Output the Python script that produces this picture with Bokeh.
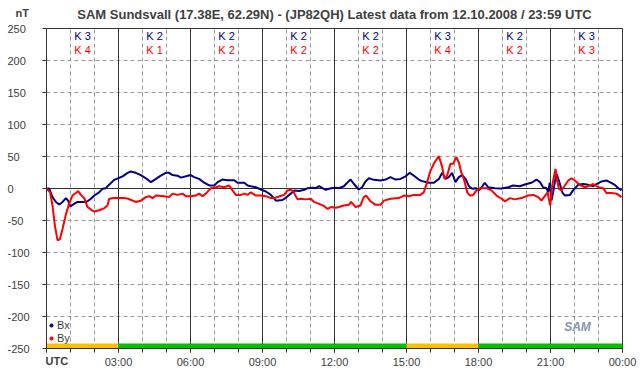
import numpy as np
from bokeh.plotting import figure
from bokeh.models import (FixedTicker, Label, LabelSet, ColumnDataSource, Range1d,
                          Legend, LegendItem)
from bokeh.embed import file_html
from bokeh.resources import INLINE
from bokeh.core.properties import value

# ---------------- data ----------------
title_text = "SAM Sundsvall (17.38E, 62.29N) - (JP82QH) Latest data from 12.10.2008 / 23:59 UTC"
unit_text = "nT"
y_ticks = [-250, -200, -150, -100, -50, 0, 50, 100, 150, 200, 250]
y_tick_labels = ["-250", "-200", "-150", "-100", "-50", "0", "50", "100", "150", "200", "250"]
x_ticks = [0, 3, 6, 9, 12, 15, 18, 21, 24]
x_tick_labels = ["UTC", "03:00", "06:00", "09:00", "12:00", "15:00", "18:00", "21:00", "00:00"]
hour_ticks = list(range(25))
seg_start = [0, 3, 6, 9, 12, 15, 18, 21]
seg_end = [3, 6, 9, 12, 15, 18, 21, 24]
k_bx = [3, 2, 2, 2, 2, 3, 2, 3]
k_by = [4, 1, 2, 2, 2, 4, 2, 3]

bx_t = [0, 0.11, 0.25, 0.39, 0.53, 0.67, 0.81, 0.90, 0.99, 1.15, 1.29, 1.57, 1.71, 1.85, 1.99,
        2.19, 2.33, 2.47, 2.61, 2.82, 2.99, 3.17, 3.38, 3.51, 3.72, 3.93, 4.14, 4.35, 4.56, 4.76,
        4.97, 5.11, 5.25, 5.46, 5.60, 5.81, 6.01, 6.15, 6.36, 6.57, 6.78, 6.99, 7.13, 7.33, 7.54,
        7.82, 7.96, 8.24, 8.38, 8.51, 8.72, 8.93, 9.14, 9.35, 9.56, 9.83, 9.97, 10.18, 10.32,
        10.53, 10.74, 10.88, 11.08, 11.22, 11.36, 11.50, 11.64, 11.85, 12.06, 12.18, 12.39,
        12.53, 12.67, 12.81, 13.01, 13.15, 13.29, 13.43, 13.64, 13.92, 14.13, 14.33, 14.54,
        14.75, 14.96, 15.14, 15.31, 15.51, 15.65, 15.93, 16.14, 16.35, 16.49, 16.63, 16.76,
        16.90, 17.04, 17.18, 17.32, 17.46, 17.60, 17.74, 17.88, 18.01, 18.13, 18.26, 18.40,
        18.68, 18.96, 19.24, 19.44, 19.72, 20.00, 20.21, 20.42, 20.56, 20.69, 20.83, 20.90,
        20.97, 21.04, 21.11, 21.18, 21.25, 21.35, 21.49, 21.60, 21.81, 21.94, 22.15, 22.36,
        22.57, 22.78, 22.92, 23.13, 23.33, 23.47, 23.68, 23.82, 23.96]
bx_v = [0, 0, -13.5, -21, -25, -21, -15, -19, -28, -24, -21, -21, -20, -16, -11,
        -6, -0.5, 0.5, 6, 13.5, 16, 19, 24.5, 26.5, 24.5, 21, 16, 10, 15, 20,
        24.5, 24.5, 21, 20, 17, 19, 21, 17.7, 15, 9, 4.7, 4.7, 10, 14, 13,
        13, 9, 9, 4.7, 3.6, 2, -1.6, -4.7, -10, -19, -18, -14.6, -8, -3,
        -4, -2, 0.5, 1, 0.5, 3.6, 0.5, -2, 0.5, 1, 0.5, 3.6,
        9, 14, 7, -1.6, 2, 11, 16, 13.5, 12.5, 14, 17.7, 14,
        15, 19, 24.5, 20, 14, 11.5, 9, 9, 15, 24.5, 15, 17.7,
        24.5, 10, 17.7, 21, 15, 3.6, -0.5, 0.5, -3, 2, 9, 2,
        0.5, 0, 2, 4.7, 3.6, 7, 9, 14, 10, 2, 0.5, -6,
        9, -19, -6, 10, 23, 12.5, -6, -11, -10, -3, 5.7, 7,
        5.7, 3.6, 7, 11, 12.5, 10, 5.7, 0.5, -3]

by_t = [0, 0.15, 0.25, 0.35, 0.46, 0.56, 0.67, 0.81, 0.94, 1.08, 1.22, 1.32, 1.43, 1.57, 1.71,
        1.85, 1.99, 2.19, 2.40, 2.54, 2.61, 2.82, 3.24, 3.40, 3.72, 3.93, 4.14, 4.28, 4.42, 4.56,
        4.90, 5.11, 5.25, 5.46, 5.67, 5.81, 6.01, 6.22, 6.36, 6.50, 6.64, 6.85, 7.06, 7.19, 7.40,
        7.61, 7.75, 7.89, 8.10, 8.24, 8.38, 8.51, 8.72, 8.93, 9.14, 9.35, 9.49, 9.69, 9.90,
        10.04, 10.18, 10.28, 10.46, 10.60, 10.81, 11.01, 11.15, 11.36, 11.57, 11.71, 11.85,
        12.06, 12.18, 12.39, 12.60, 12.69, 12.88, 13.08, 13.22, 13.32, 13.50, 13.71, 13.92,
        14.06, 14.33, 14.68, 14.89, 15.10, 15.31, 15.58, 15.72, 15.86, 16.00, 16.17, 16.35,
        16.49, 16.58, 16.69, 16.83, 16.94, 17.08, 17.18, 17.28, 17.39, 17.53, 17.64, 17.78,
        17.92, 18.08, 18.33, 18.54, 18.75, 18.96, 19.10, 19.31, 19.51, 19.79, 20.07, 20.28,
        20.49, 20.62, 20.76, 20.88, 20.93, 20.99, 21.07, 21.15, 21.21, 21.26, 21.35, 21.46,
        21.60, 21.74, 21.88, 22.01, 22.22, 22.43, 22.64, 22.78, 22.99, 23.19, 23.33, 23.54,
        23.75, 23.96]
by_v = [0, -6, -26.5, -58, -81, -79, -63, -40, -24, -11, -7, -4, -10, -15, -29,
        -33, -36, -34, -31, -26.5, -16, -15, -15, -16, -21, -19, -13.5, -12, -15, -11,
        -12, -13.5, -8, -10, -8, -12, -12, -11, -8, -12, -8, 0.5, 2, 3.6, 2,
        4.7, -3, -10, -10, -8, -10, -6, -11, -11, -12, -15, -15, -12.5, -10,
        -3, -2, -4.7, -17, -16, -17, -16, -21, -24, -27.6, -32, -29,
        -30, -29, -26.5, -25.5, -21, -29, -26.5, -13.5, -11, -20, -25.5, -25.5,
        -19, -16, -15, -11, -12, -10, -10, -6, 10, 28, 41, 50.5,
        33, 15, 20, 38.5, 38.5, 49, 41, 25.5, 15, -6, -11, -10,
        -3, 0.5, 0.5, -3, -11, -16, -20, -15, -17, -15, -11, -10,
        -13.5, -19, -12, -6, -16, -26.5, 4.7, 20, 30.7, 15, -0.5, -3,
        4.7, 12.5, 16, 12.5, 5.7, 2, 4.7, 7, 2, 0.5, -7, -7,
        -8, -13.5]

# ---------------- style / geometry ----------------
FONT = "Liberation Sans"
TXT = "#404040"
DARK = "#333333"
GRID = "#9a9a9a"
BLUE = "#000080"
RED = "#ff0000"
ORANGE = "#ffc000"
GREEN = "#00c000"
W, H = 642, 376
LEFT, TOP = 46, 28            # page position of the plotting area (00:00 / 250 nT)
PX_H, PX_NT = 24.0, 0.64      # pixels per hour / per nT
X0, X1, Y0, Y1 = 0, 24, -250, 250


def hx(px):   # page x pixel -> hours
    return (px - LEFT) / PX_H


def vy(py):   # page y pixel -> nT
    return Y1 - (py - TOP) / PX_NT


p = figure(width=W, height=H, x_range=Range1d(hx(0), hx(W)), y_range=Range1d(vy(H), vy(0)),
           output_backend="svg", toolbar_location=None, min_border=0,
           background_fill_color="white", border_fill_color="white")
p.outline_line_color = None
p.xgrid.visible = False
p.ygrid.visible = False

# grid lines (dashed each hour / each 50 nT, solid every 3 h and at 0)
minor_h = [h for h in hour_ticks if h % 3]
major_h = [h for h in x_ticks if X0 < h < X1]
p.segment(x0=minor_h, y0=Y0, x1=minor_h, y1=Y1, line_color=GRID, line_dash="4 3",
          line_width=1, level="underlay")
p.segment(x0=X0, y0=y_ticks, x1=X1, y1=y_ticks, line_color=GRID, line_dash="4 3",
          line_width=1, level="underlay")
p.segment(x0=major_h, y0=Y0, x1=major_h, y1=Y1, line_color=DARK, line_width=1,
          level="underlay")
p.segment(x0=X0, y0=0, x1=X1, y1=0, line_color=DARK, line_width=1, level="underlay")
p.quad(left=X0, right=X1, bottom=Y0, top=Y1, fill_color=None, line_color=DARK,
       line_width=1, level="underlay")

# axes (fixed at the plot area edges)
xa = p.xaxis[0]
xa.fixed_location = Y0
xa.bounds = (X0, X1)
xa.ticker = FixedTicker(ticks=x_ticks, minor_ticks=hour_ticks)
xa.major_label_overrides = {t: (lab if i else "") for i, (t, lab) in enumerate(zip(x_ticks, x_tick_labels))}
xa.axis_line_color = DARK
xa.major_tick_line_color = DARK
xa.minor_tick_line_color = DARK
xa.major_tick_out = 4
xa.major_tick_in = 0
xa.minor_tick_out = 4
xa.minor_tick_in = 0
xa.major_label_standoff = 3
xa.major_label_text_font = FONT
xa.major_label_text_font_size = "11px"
xa.major_label_text_color = TXT

ya = p.yaxis[0]
ya.fixed_location = X0
ya.bounds = (Y0, Y1)
ya.ticker = FixedTicker(ticks=y_ticks)
ya.major_label_overrides = {t: "" for t in y_ticks}
ya.axis_line_color = DARK
ya.major_tick_line_color = DARK
ya.major_tick_out = 4
ya.major_tick_in = 0
ya.minor_tick_line_color = None

# y tick labels, left aligned as in the original
ylab_src = ColumnDataSource(dict(x=[hx(7)] * len(y_ticks), y=y_ticks, text=y_tick_labels))
p.add_layout(LabelSet(x="x", y="y", text="text", source=ylab_src, text_align="left",
                      text_baseline="middle", text_font=value(FONT), text_font_size="11px",
                      text_color=TXT))

# activity bar
bar_colors = [ORANGE if max(a, b) >= 4 else GREEN for a, b in zip(k_bx, k_by)]
p.quad(left=seg_start, right=seg_end, bottom=Y0, top=Y0 + 8, fill_color=bar_colors,
       line_color=None)

# K indices
seg_mid = [(a + b) / 2 for a, b in zip(seg_start, seg_end)]
p.text(x=seg_mid, y=vy(35.5), text=["K %d" % k for k in k_bx], text_color=BLUE,
       text_align="center", text_baseline="middle", text_font=value(FONT),
       text_font_size="11px")
p.text(x=seg_mid, y=vy(49.5), text=["K %d" % k for k in k_by], text_color=RED,
       text_align="center", text_baseline="middle", text_font=value(FONT),
       text_font_size="11px")

# data lines
p.line(bx_t, bx_v, line_color=BLUE, line_width=2)
p.line(by_t, by_v, line_color=RED, line_width=2)

# legend
r1 = p.scatter(x=[np.nan], y=[np.nan], size=3, color=BLUE)
r2 = p.scatter(x=[np.nan], y=[np.nan], size=3, color=RED)
leg = Legend(items=[LegendItem(label="Bx", renderers=[r1]), LegendItem(label="By", renderers=[r2])],
             location=(47, 32), glyph_width=8, glyph_height=12, label_height=12,
             label_standoff=2, spacing=1, padding=0, margin=0, border_line_color=None,
             background_fill_alpha=0, label_text_font=FONT, label_text_font_size="11px",
             label_text_color=TXT)
p.add_layout(leg)

# texts
p.add_layout(Label(x=(X0 + X1) / 2, y=vy(13.5), text=title_text, text_align="center",
                   text_baseline="middle", text_font=FONT, text_font_size="13px",
                   text_font_style="bold", text_color=TXT))
p.add_layout(Label(x=hx(15), y=vy(12.5), text=unit_text, text_align="left",
                   text_baseline="middle", text_font=FONT, text_font_size="11px",
                   text_font_style="bold", text_color=TXT))
p.add_layout(Label(x=hx(45), y=vy(360), text=x_tick_labels[0], text_align="left",
                   text_baseline="middle", text_font=FONT, text_font_size="11px",
                   text_font_style="bold", text_color=TXT))
p.add_layout(Label(x=hx(577), y=vy(326), text="SAM", text_align="center",
                   text_baseline="middle", text_font=FONT, text_font_size="12px",
                   text_font_style="bold italic", text_color="#8a94b0"))

open("out.html", "w").write(file_html(p, INLINE))
